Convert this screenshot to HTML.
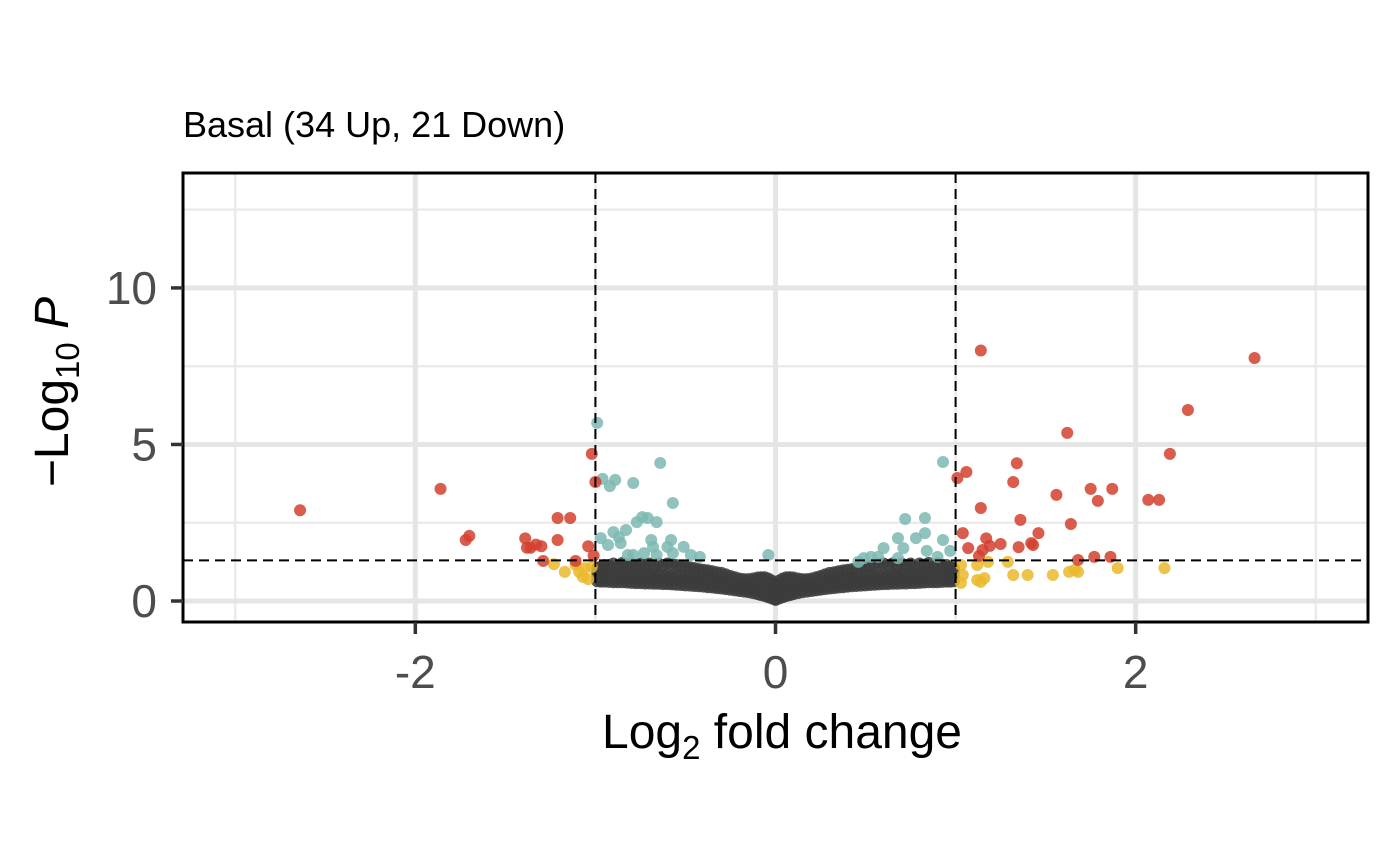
<!DOCTYPE html>
<html><head><meta charset="utf-8"><style>
body{margin:0;background:#fff;}
svg{display:block;font-family:"Liberation Sans",Arial,sans-serif;}
</style></head><body>
<svg id="chart" width="1400" height="865" viewBox="0 0 1400 865">
<rect width="1400" height="865" fill="#fff"/>
<text x="183" y="137" font-size="36" fill="#000">Basal (34 Up, 21 Down)</text>
<g id="grid"></g>
<g id="pts"></g>
<g id="ref"></g>
<rect x="183" y="173" width="1185" height="449" fill="none" stroke="#000" stroke-width="3"/>
<g id="axes"></g>
<text x="782" y="748" font-size="48" text-anchor="middle" fill="#000">Log<tspan font-size="33" dy="11">2</tspan><tspan dy="-11"> fold change</tspan></text>
<text transform="translate(68,392) rotate(-90)" font-size="48" text-anchor="middle" fill="#000">−Log<tspan font-size="33" dy="11">10</tspan><tspan dy="-11" font-style="italic"> P</tspan></text>
</svg>
<script>
const xTicks=[-2,0,2];
const yTicks=[0,5,10];
const fcCut=1, pCut=1.3;
const upRed=[[1.14,8.0],[2.66,7.76],[2.29,6.1],[1.62,5.37],[2.19,4.7],[1.06,4.12],[1.34,4.4],[1.01,3.93],[1.32,3.8],[1.56,3.39],[1.75,3.58],[1.79,3.2],[1.87,3.58],[2.07,3.23],[2.13,3.23],[1.14,2.97],[1.36,2.59],[1.64,2.46],[1.04,2.17],[1.46,2.17],[1.35,1.72],[1.43,1.79],[1.42,1.85],[1.07,1.69],[1.17,2.0],[1.19,1.76],[1.25,1.82],[1.15,1.63],[1.13,1.44],[1.68,1.31],[1.77,1.41],[1.86,1.41]];
const downRed=[[-2.64,2.9],[-1.86,3.58],[-1.72,1.95],[-1.70,2.08],[-1.39,2.0],[-1.38,1.7],[-1.36,1.7],[-1.33,1.8],[-1.30,1.75],[-1.21,2.65],[-1.14,2.65],[-1.21,1.95],[-1.29,1.28],[-1.02,4.7],[-1.0,3.8],[-1.04,1.75],[-1.01,1.45],[-1.11,1.28]];
const yellow=[[1.03,1.15],[1.12,1.15],[1.18,1.25],[1.29,1.25],[1.04,0.83],[1.03,0.58],[1.12,0.67],[1.16,0.73],[1.14,0.61],[1.32,0.83],[1.40,0.83],[1.54,0.83],[1.63,0.93],[1.66,0.99],[1.68,0.93],[1.9,1.05],[2.16,1.05],[-1.23,1.18],[-1.17,0.93],[-1.11,1.15],[-1.09,0.93],[-1.07,0.77],[-1.04,0.70],[-1.02,1.09],[-1.06,1.05]];
const teal=[[-0.99,5.69],[-0.96,3.9],[-0.92,3.67],[-0.89,3.87],[-0.79,3.77],[-0.64,4.41],[-0.57,3.13],[-0.77,2.52],[-0.74,2.68],[-0.71,2.65],[-0.66,2.52],[-0.9,2.2],[-0.87,2.04],[-0.83,2.27],[-0.93,1.79],[-0.97,2.01],[-0.86,1.85],[-0.69,1.95],[-0.68,1.73],[-0.6,1.73],[-0.58,1.95],[-0.51,1.73],[-0.82,1.47],[-0.79,1.47],[-0.73,1.53],[-0.66,1.47],[-0.57,1.53],[-0.47,1.47],[-0.42,1.41],[-0.04,1.47],[0.93,4.44],[0.72,2.62],[0.83,2.65],[0.68,2.01],[0.78,2.01],[0.83,2.17],[0.93,1.95],[0.71,1.69],[0.84,1.6],[0.97,1.6],[0.6,1.69],[0.53,1.41],[0.49,1.37],[0.57,1.41],[0.68,1.37],[0.9,1.41],[0.46,1.25]];
const grayX=[0,0.02,0.04,0.06,0.08,0.1,0.125,0.15,0.175,0.2,0.225,0.25,0.275,0.3,0.325,0.35,0.375,0.4,0.425,0.45,0.475,0.5,0.525,0.55,0.575,0.6,0.625,0.65,0.675,0.7,0.725,0.75,0.775,0.8,0.825,0.85,0.875,0.9,0.925,0.95,0.97,0.99];
const grayLo=[0.04,0.08,0.12,0.16,0.19,0.22,0.25,0.28,0.3,0.32,0.34,0.36,0.38,0.4,0.41,0.43,0.44,0.46,0.47,0.48,0.49,0.5,0.51,0.52,0.53,0.54,0.54,0.55,0.55,0.56,0.56,0.57,0.57,0.58,0.59,0.6,0.6,0.6,0.61,0.62,0.62,0.63];
const grayMid=[0.3,0.34,0.4,0.43,0.46,0.48,0.49,0.5,0.52,0.54,0.57,0.6,0.62,0.65,0.67,0.7,0.71,0.73,0.75,0.76,0.78,0.8,0.81,0.82,0.83,0.85,0.85,0.85,0.86,0.86,0.87,0.87,0.88,0.88,0.89,0.9,0.9,0.9,0.9,0.9,0.9,0.9];
const grayHi=[0.55,0.65,0.72,0.76,0.76,0.75,0.72,0.7,0.7,0.72,0.76,0.8,0.85,0.9,0.92,0.95,0.98,1.0,1.02,1.05,1.08,1.1,1.12,1.15,1.18,1.2,1.15,1.2,1.1,1.2,1.15,1.2,1.1,1.2,1.15,1.22,1.1,1.2,1.15,1.15,1.1,1.05];

const X0=183,X1=1368,Y0=622,Y1=173,xMin=-3.29,xMax=3.29,yMin=-0.67,yMax=13.67;
const sx=v=>X0+(v-xMin)/(xMax-xMin)*(X1-X0);
const sy=v=>Y0-(v-yMin)/(yMax-yMin)*(Y0-Y1);
const NS='http://www.w3.org/2000/svg';
function mk(tag,attrs,parent){const e=document.createElementNS(NS,tag);for(const k in attrs)e.setAttribute(k,attrs[k]);parent.appendChild(e);return e;}
const grid=document.getElementById('grid');
[-3,-1,1,3].forEach(v=>{const l=mk('line',{x1:sx(v),x2:sx(v),y1:Y1,y2:Y0,stroke:'#ebebeb','stroke-width':2.5},grid);

});
[2.5,7.5,12.5].forEach(v=>{const l=mk('line',{x1:X0,x2:X1,y1:sy(v),y2:sy(v),stroke:'#ebebeb','stroke-width':2.5},grid);

});
xTicks.forEach(v=>{const l=mk('line',{x1:sx(v),x2:sx(v),y1:Y1,y2:Y0,stroke:'#e5e5e5','stroke-width':5},grid);

});
yTicks.forEach(v=>{const l=mk('line',{x1:X0,x2:X1,y1:sy(v),y2:sy(v),stroke:'#e5e5e5','stroke-width':5},grid);

});
const pts=document.getElementById('pts');
function dot(p,col,name){const c=mk('circle',{cx:sx(p[0]),cy:sy(p[1]),r:6,fill:col,'fill-opacity':0.85},pts);

}
grayX.forEach((x,i)=>{[grayLo[i],(grayLo[i]+grayMid[i])/2,grayMid[i],grayHi[i]].forEach(y=>{dot([x,y],'#3c3c3c','gene-point-ns');dot([-x,y],'#3c3c3c','gene-point-ns');});});
teal.forEach(p=>dot(p,'#7db8b1','gene-point-p'));
yellow.forEach(p=>dot(p,'#eab82c','gene-point-fc'));
upRed.concat(downRed).forEach(p=>dot(p,'#d43f2e','gene-point-sig'));
const ref=document.getElementById('ref');
[-fcCut,fcCut].forEach(v=>{const l=mk('line',{x1:sx(v),x2:sx(v),y1:Y1,y2:Y0,stroke:'#000','stroke-width':2,'stroke-dasharray':'10 6'},ref);

});
const hl=mk('line',{x1:X0,x2:X1,y1:sy(pCut),y2:sy(pCut),stroke:'#000','stroke-width':2,'stroke-dasharray':'10 6'},ref);


const axes=document.getElementById('axes');
xTicks.forEach(v=>{const t=mk('line',{x1:sx(v),x2:sx(v),y1:Y0,y2:Y0+12,stroke:'#333','stroke-width':3.5},axes);


const tx=mk('text',{x:sx(v),y:688,'font-size':46,'text-anchor':'middle',fill:'#4d4d4d'},axes);tx.textContent=v;

});
yTicks.forEach(v=>{const t=mk('line',{x1:X0-12,x2:X0,y1:sy(v),y2:sy(v),stroke:'#333','stroke-width':3.5},axes);


const tx=mk('text',{x:157,y:sy(v)+16,'font-size':46,'text-anchor':'end',fill:'#4d4d4d'},axes);tx.textContent=v;

});
</script>
</body></html>
